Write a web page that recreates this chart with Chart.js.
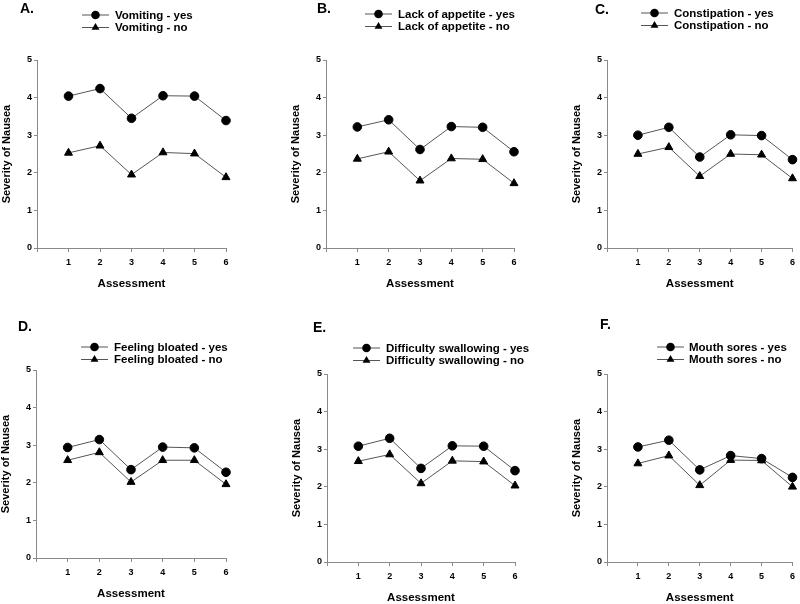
<!DOCTYPE html>
<html>
<head>
<meta charset="utf-8">
<script src="https://cdn.jsdelivr.net/npm/chart.js@4.4.0/dist/chart.umd.min.js"></script>
<style>
html, body { margin:0; padding:0; width:800px; height:604px; overflow:hidden; background:#fff; }
canvas { position:absolute; }
</style>
</head>
<body>
<script>
// assessment points on the x axis
const assessments = [1, 2, 3, 4, 5, 6];

// mean severity of nausea
const vomitingYes = [4.04, 4.24, 3.45, 4.05, 4.04, 3.39];
const vomitingNo  = [2.53, 2.72, 1.95, 2.54, 2.51, 1.88];
const appetiteYes = [3.22, 3.41, 2.62, 3.23, 3.21, 2.56];
const appetiteNo  = [2.37, 2.56, 1.79, 2.38, 2.36, 1.72];
const constipYes  = [3.00, 3.21, 2.42, 3.01, 2.99, 2.35];
const constipNo   = [2.50, 2.68, 1.91, 2.50, 2.48, 1.85];
const bloatedYes  = [2.94, 3.15, 2.35, 2.95, 2.93, 2.28];
const bloatedNo   = [2.60, 2.81, 2.02, 2.60, 2.60, 1.96];
const swallowYes  = [3.08, 3.29, 2.49, 3.09, 3.08, 2.43];
const swallowNo   = [2.68, 2.86, 2.09, 2.69, 2.67, 2.03];
const soresYes    = [3.06, 3.24, 2.45, 2.83, 2.75, 2.25];
const soresNo     = [2.62, 2.83, 2.04, 2.71, 2.70, 2.00];

const panelLetters = ["A.", "B.", "C.", "D.", "E.", "F."];
const symptoms = ["Vomiting", "Lack of appetite", "Constipation", "Feeling bloated", "Difficulty swallowing", "Mouth sores"];
const yesSeries = [vomitingYes, appetiteYes, constipYes, bloatedYes, swallowYes, soresYes];
const noSeries  = [vomitingNo, appetiteNo, constipNo, bloatedNo, swallowNo, soresNo];

const yTitle = "Severity of Nausea";
const xTitle = "Assessment";

// where each panel sits on the page (pixels)
const boxes = [
  {axisX:37,  x6:226, y5:60,  y0:248, letterX:20,  letterY:9,   legX:82,  textX:115, legY:15},
  {axisX:326, x6:514, y5:60,  y0:248, letterX:317, letterY:9,   legX:365, textX:398, legY:14},
  {axisX:607, x6:795, y5:60,  y0:248, letterX:595, letterY:10,  legX:641, textX:674, legY:13},
  {axisX:36,  x6:226, y5:370, y0:558, letterX:18,  letterY:327, legX:81,  textX:114, legY:347},
  {axisX:327, x6:515, y5:374, y0:562, letterX:313, letterY:328, legX:353, textX:386, legY:348},
  {axisX:607, x6:795, y5:374, y0:562, letterX:600, letterY:325, legX:657, textX:689, legY:347}
];

const FONT = '"Liberation Sans", Arial, sans-serif';
const LINE = "#555";
const AXIS = "#8a8a8a";

// panel letter + legend with line and marker
const panelDecor = {
  id: "panelDecor",
  afterDraw(chart, args, o) {
    const ctx = chart.ctx;
    ctx.save();
    ctx.fillStyle = "#000";
    ctx.textBaseline = "middle";
    ctx.font = "bold 14px " + FONT;
    ctx.fillText(o.letter, o.letterX, o.letterY);
    ctx.font = "bold 11.5px " + FONT;
    chart.data.datasets.forEach(function(ds, i) {
      const y = o.legY + i * 12.5;
      ctx.strokeStyle = LINE;
      ctx.lineWidth = 1;
      ctx.beginPath();
      ctx.moveTo(o.legX, y);
      ctx.lineTo(o.legX + 27, y);
      ctx.stroke();
      const cx = o.legX + 13.5;
      ctx.beginPath();
      if (ds.pointStyle === "circle") {
        ctx.arc(cx, y, ds.pointRadius, 0, Math.PI * 2);
      } else {
        const r = ds.pointRadius;
        ctx.moveTo(cx, y - r);
        ctx.lineTo(cx + r * 0.866, y + r * 0.5);
        ctx.lineTo(cx - r * 0.866, y + r * 0.5);
        ctx.closePath();
      }
      ctx.fill();
      ctx.fillText(ds.label, o.textX, y + 0.5);
    });
    ctx.restore();
  }
};

function makePanel(k) {
  const b = boxes[k];
  const left = b.axisX - 37;
  const top = b.y5 - 60;
  const W = Math.min(b.x6 + 40, 800) - left;
  const H = 300;
  const plotH = b.y0 - b.y5;

  const canvas = document.createElement("canvas");
  canvas.width = W;
  canvas.height = H;
  canvas.style.left = left + "px";
  canvas.style.top = top + "px";
  canvas.style.width = W + "px";
  canvas.style.height = H + "px";
  document.body.appendChild(canvas);

  const series = function(vals) {
    return assessments.map(function(a, i) { return {x: a, y: vals[i]}; });
  };

  const common = {
    borderColor: LINE,
    borderWidth: 1,
    pointBackgroundColor: "#000",
    pointBorderColor: "#000",
    pointBorderWidth: 1,
    clip: false,
    tension: 0
  };

  new Chart(canvas, {
    type: "line",
    data: {
      datasets: [
        Object.assign({label: symptoms[k] + " - yes", data: series(yesSeries[k]), pointStyle: "circle", pointRadius: 4.3}, common),
        Object.assign({label: symptoms[k] + " - no", data: series(noSeries[k]), pointStyle: "triangle", pointRadius: 4.6}, common)
      ]
    },
    options: {
      responsive: false,
      animation: false,
      layout: { padding: { top: 60, left: 0, right: W - (b.x6 - left), bottom: 0 } },
      plugins: {
        legend: { display: false },
        tooltip: { enabled: false },
        panelDecor: {
          letter: panelLetters[k],
          letterX: b.letterX - left, letterY: b.letterY - top,
          legX: b.legX - left, textX: b.textX - left, legY: b.legY - top
        }
      },
      scales: {
        x: {
          type: "linear",
          min: 0, max: 6,
          afterFit: function(s) { s.height = H - 60 - plotH; },
          border: { color: AXIS, width: 1 },
          grid: { drawOnChartArea: false, color: AXIS, tickLength: 4 },
          ticks: {
            stepSize: 1, autoSkip: false, maxRotation: 0, padding: 5,
            color: "#000", font: { family: FONT, size: 9, weight: "bold" },
            callback: function(v) { return v === 0 ? "" : v; }
          },
          title: {
            display: true, text: xTitle, color: "#000",
            font: { family: FONT, size: 11.5, weight: "bold" },
            padding: { top: 0, bottom: 9 }
          }
        },
        y: {
          min: 0, max: 5,
          afterFit: function(s) { s.width = 37; },
          border: { color: AXIS, width: 1 },
          grid: { drawOnChartArea: false, color: AXIS, tickLength: 3 },
          ticks: {
            stepSize: 1, padding: 2,
            color: "#000", font: { family: FONT, size: 9, weight: "bold" }
          },
          title: {
            display: true, text: yTitle, color: "#000",
            font: { family: FONT, size: 11, weight: "bold" },
            padding: { top: 0, bottom: 0 }
          }
        }
      }
    },
    plugins: [panelDecor]
  });
}

for (let k = 0; k < boxes.length; k++) makePanel(k);
</script>
</body>
</html>
